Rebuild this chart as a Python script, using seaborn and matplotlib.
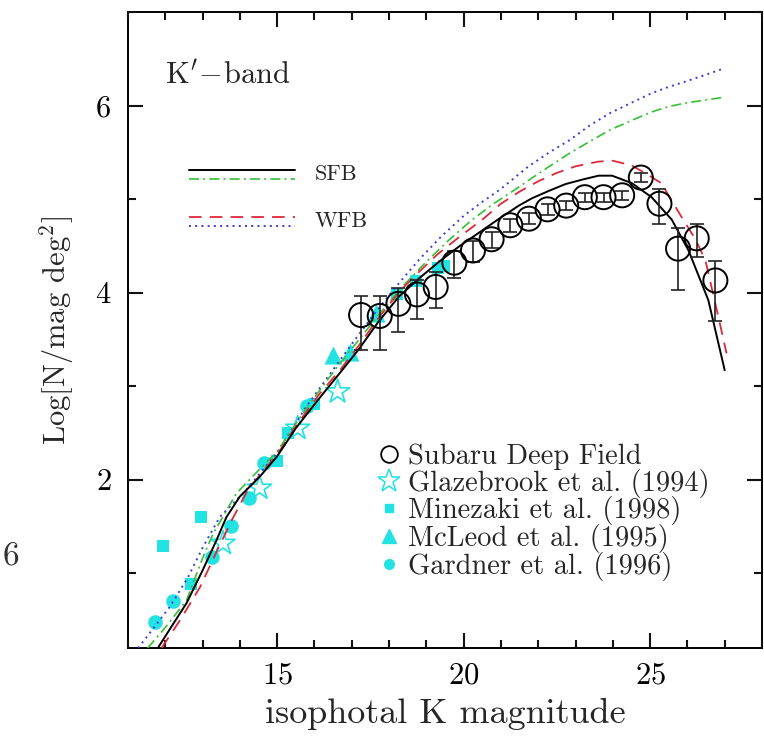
import numpy as np
import pandas as pd
import matplotlib
matplotlib.use("Agg")
import matplotlib.pyplot as plt
import seaborn as sns
from matplotlib.lines import Line2D
from matplotlib.ticker import MultipleLocator, FixedLocator

# ---------------- data ----------------
# Subaru Deep Field counts (open circles with asymmetric error bars)
sdf_mag = [17.25, 17.75, 18.25, 18.75, 19.25, 19.75, 20.25, 20.75, 21.25, 21.75,
           22.25, 22.75, 23.25, 23.75, 24.25, 24.75, 25.25, 25.75, 26.25, 26.75]
sdf_logn = [3.76, 3.75, 3.88, 3.98, 4.06, 4.32, 4.45, 4.57, 4.72, 4.79,
            4.89, 4.93, 5.02, 5.02, 5.04, 5.23, 4.95, 4.47, 4.58, 4.13]
sdf_err_up = [0.20, 0.21, 0.17, 0.15, 0.16, 0.12, 0.10, 0.08, 0.07, 0.06,
              0.06, 0.05, 0.05, 0.05, 0.05, 0.05, 0.16, 0.22, 0.15, 0.21]
sdf_err_lo = [0.37, 0.36, 0.30, 0.26, 0.23, 0.16, 0.12, 0.09, 0.07, 0.06,
              0.06, 0.05, 0.05, 0.05, 0.05, 0.05, 0.22, 0.44, 0.20, 0.43]

glaze_mag = [13.55, 14.53, 15.55, 16.62]
glaze_logn = [1.32, 1.91, 2.55, 2.94]

mine_mag = [11.94, 12.70, 12.97, 15.00, 15.30, 16.00, 18.20, 18.72, 19.30, 19.48]
mine_logn = [1.29, 0.88, 1.60, 2.20, 2.50, 2.81, 3.98, 4.12, 4.26, 4.28]

mcleod_mag = [16.49, 16.95, 17.65]
mcleod_logn = [3.33, 3.37, 3.78]

gard_mag = [11.72, 12.21, 13.26, 13.75, 14.24, 14.65, 15.80]
gard_logn = [0.48, 0.70, 1.17, 1.50, 1.80, 2.18, 2.79]

# model curves
sfb1_mag = [11.8, 12.2, 12.57, 13.0, 13.37, 13.64, 14.0, 14.53, 15.0, 15.5, 16.13,
            16.7, 17.2, 17.7, 18.27, 18.8, 19.34, 19.9, 20.41, 20.95, 21.48, 21.84,
            22.3, 22.73, 23.2, 23.62, 23.98, 24.51, 25.04, 25.58, 26.03, 26.56, 27.0]
sfb1_logn = [0.2, 0.45, 0.68, 1.03, 1.35, 1.6, 1.82, 2.03, 2.25, 2.55, 2.87,
             3.15, 3.40, 3.68, 3.96, 4.15, 4.33, 4.50, 4.64, 4.79, 4.93, 5.01,
             5.09, 5.16, 5.21, 5.25, 5.25, 5.17, 5.02, 4.78, 4.45, 3.92, 3.17]

sfb2_mag = [11.53, 12.0, 12.57, 13.01, 13.28, 13.9, 14.5, 15.0, 15.5, 16.0, 16.6,
            17.2, 17.8, 18.4, 19.0, 19.6, 20.2, 20.8, 21.3, 21.74, 22.3, 22.84,
            23.4, 23.93, 24.5, 25.03, 25.5, 26.0, 26.5, 27.0]
sfb2_logn = [0.2, 0.42, 0.71, 1.17, 1.42, 1.85, 2.1, 2.3, 2.6, 2.88, 3.2,
             3.5, 3.8, 4.08, 4.33, 4.56, 4.77, 4.95, 5.08, 5.20, 5.35, 5.49,
             5.62, 5.74, 5.84, 5.93, 5.99, 6.03, 6.06, 6.09]

wfb1_mag = [11.9, 12.4, 12.93, 13.4, 13.8, 14.2, 14.6, 15.0, 15.5, 16.1, 16.7,
            17.2, 17.7, 18.3, 18.8, 19.3, 19.9, 20.5, 21.0, 21.5, 22.0, 22.5,
            23.0, 23.6, 24.0, 24.5, 24.9, 25.3, 25.84, 26.2, 26.48, 26.83, 27.05]
wfb1_logn = [0.2, 0.5, 0.85, 1.25, 1.58, 1.88, 2.08, 2.27, 2.57, 2.9, 3.18,
             3.44, 3.72, 4.02, 4.22, 4.41, 4.60, 4.78, 4.95, 5.08, 5.19, 5.28,
             5.35, 5.40, 5.41, 5.36, 5.27, 5.17, 4.81, 4.58, 4.35, 3.74, 3.35]

wfb2_mag = [11.27, 11.7, 12.12, 12.6, 13.01, 13.46, 14.17, 14.98, 15.78, 16.4,
            17.0, 17.6, 18.2, 18.8, 19.4, 20.0, 20.5, 20.97, 21.74, 22.3,
            22.84, 23.39, 23.93, 24.5, 25.03, 25.5, 25.9, 26.5, 27.0]
wfb2_logn = [0.2, 0.42, 0.64, 0.95, 1.28, 1.6, 1.89, 2.28, 2.78, 3.12,
             3.45, 3.77, 4.07, 4.35, 4.60, 4.82, 4.97, 5.10, 5.35, 5.50,
             5.63, 5.79, 5.92, 6.03, 6.13, 6.20, 6.25, 6.33, 6.40]

x_ticks = [15, 20, 25]
y_ticks = [2, 4, 6]

# ---------------- style ----------------
sns.set_theme(style="ticks")
plt.rcParams.update({
    "font.family": ["cmr10", "DejaVu Serif"],
    "mathtext.fontset": "cm",
    "axes.formatter.use_mathtext": True,
    "axes.unicode_minus": False,
    "axes.axisbelow": False,
    "xtick.direction": "in", "ytick.direction": "in",
    "xtick.top": True, "ytick.right": True,
    "xtick.bottom": True, "ytick.left": True,
    "xtick.color": "black", "ytick.color": "black",
    "xtick.minor.visible": True, "ytick.minor.visible": True,
})

CYAN = "#22e2e2"
fig = plt.figure(figsize=(7.64, 7.39), dpi=100)
ax = fig.add_axes([128 / 764, 1 - 648 / 739, 634 / 764, 636 / 739])

# cyan literature points (behind the curves)
sns.scatterplot(x=mine_mag, y=mine_logn, ax=ax, marker="s", s=85, color=CYAN,
                edgecolor=CYAN, linewidth=0, zorder=2)
sns.scatterplot(x=gard_mag, y=gard_logn, ax=ax, marker="o", s=110, color=CYAN,
                edgecolor=CYAN, linewidth=0, zorder=2)
sns.scatterplot(x=mcleod_mag, y=mcleod_logn, ax=ax, marker="^", s=170, color=CYAN,
                edgecolor=CYAN, linewidth=0, zorder=2)
sns.scatterplot(x=glaze_mag, y=glaze_logn, ax=ax, marker="*", s=330,
                facecolor="none", edgecolor=CYAN, linewidth=1.2, zorder=2)

# model curves
def curve(xs, ys, color, ls, lw, dashes=None):
    df = pd.DataFrame({"m": xs, "n": ys})
    sns.lineplot(data=df, x="m", y="n", ax=ax, color=color, linestyle=ls,
                 linewidth=lw, sort=False, estimator=None, zorder=3)
    ln = ax.lines[-1]
    if dashes is not None:
        ln.set_dashes(dashes)
    return ln

curve(wfb2_mag, wfb2_logn, "#3a3ad8", ":", 1.4, dashes=(1, 2.2))
curve(sfb2_mag, sfb2_logn, "#35c035", "-.", 1.2, dashes=(6, 2.5, 1.2, 2.5))
curve(wfb1_mag, wfb1_logn, "#dd2a3a", "--", 1.3, dashes=(7, 4.5))
curve(sfb1_mag, sfb1_logn, "black", "-", 1.4)

# Subaru Deep Field
ax.errorbar(sdf_mag, sdf_logn, yerr=[sdf_err_lo, sdf_err_up], fmt="none",
            ecolor="#222222", elinewidth=1.2, capsize=5, capthick=1.2, zorder=4)
sns.scatterplot(x=sdf_mag, y=sdf_logn, ax=ax, marker="o", s=300,
                facecolor="none", edgecolor="black", linewidth=1.4, zorder=5)

# axes
ax.set_xlim(11, 28)
ax.set_ylim(0.2, 7.0)
ax.xaxis.set_major_locator(FixedLocator(x_ticks))
ax.yaxis.set_major_locator(FixedLocator(y_ticks))
ax.xaxis.set_minor_locator(MultipleLocator(1))
ax.yaxis.set_minor_locator(MultipleLocator(1))
ax.tick_params(which="both", direction="in", top=True, right=True,
               bottom=True, left=True, color="#111111", width=1.5)
ax.tick_params(which="major", length=11, labelsize=22)
ax.tick_params(which="minor", length=6)
ax.tick_params(axis="x", which="major", pad=10)
ax.tick_params(axis="y", which="major", pad=12)
ax.set_axisbelow(False)
for sp in ax.spines.values():
    sp.set_linewidth(1.4)
    sp.set_color("black")

ax.set_xlabel("isophotal K magnitude", fontsize=26, labelpad=6)
ax.set_ylabel(r"Log[N/mag deg$^2$]", fontsize=22, labelpad=14)

ax.text(0.058, 0.901, r"$\mathrm{K}'\!-\!\mathrm{band}$", transform=ax.transAxes,
        fontsize=22, va="center", ha="left")

# model legend (drawn manually)
x0, x1 = 0.097, 0.263
ax.plot([x0, x1], [0.752, 0.752], transform=ax.transAxes, color="black", lw=1.4)
ax.plot([x0, x1], [0.737, 0.737], transform=ax.transAxes, color="#35c035", lw=1.2,
        dashes=(6, 2.5, 1.2, 2.5))
ax.plot([x0, x1], [0.678, 0.678], transform=ax.transAxes, color="#dd2a3a", lw=1.3,
        dashes=(7, 4.5))
ax.plot([x0, x1], [0.663, 0.663], transform=ax.transAxes, color="#3a3ad8", lw=1.4,
        dashes=(1, 2.2))
ax.text(0.295, 0.745, "SFB", transform=ax.transAxes, fontsize=16, va="center")
ax.text(0.295, 0.671, "WFB", transform=ax.transAxes, fontsize=16, va="center")

# data legend
handles = [
    Line2D([], [], ls="none", marker="o", ms=12, mfc="none", mec="black", mew=1.3),
    Line2D([], [], ls="none", marker="*", ms=17, mfc="none", mec=CYAN, mew=1.1),
    Line2D([], [], ls="none", marker="s", ms=6, mfc=CYAN, mec=CYAN),
    Line2D([], [], ls="none", marker="^", ms=10, mfc=CYAN, mec=CYAN),
    Line2D([], [], ls="none", marker="o", ms=7, mfc=CYAN, mec=CYAN),
]
labels = ["Subaru Deep Field", "Glazebrook et al. (1994)", "Minezaki et al. (1998)",
          "McLeod et al. (1995)", "Gardner et al. (1996)"]
ax.legend(handles, labels, loc="upper left", bbox_to_anchor=(0.393, 0.322),
          frameon=False, fontsize=20.5, handlelength=0.8, handletextpad=0.3,
          labelspacing=-0.04, borderpad=0, borderaxespad=0)

fig.text(0.003, 1 - 557 / 739, "6", fontsize=24, va="center",
         ha="left", color="#333333")

fig.savefig("out.png", dpi=100)
